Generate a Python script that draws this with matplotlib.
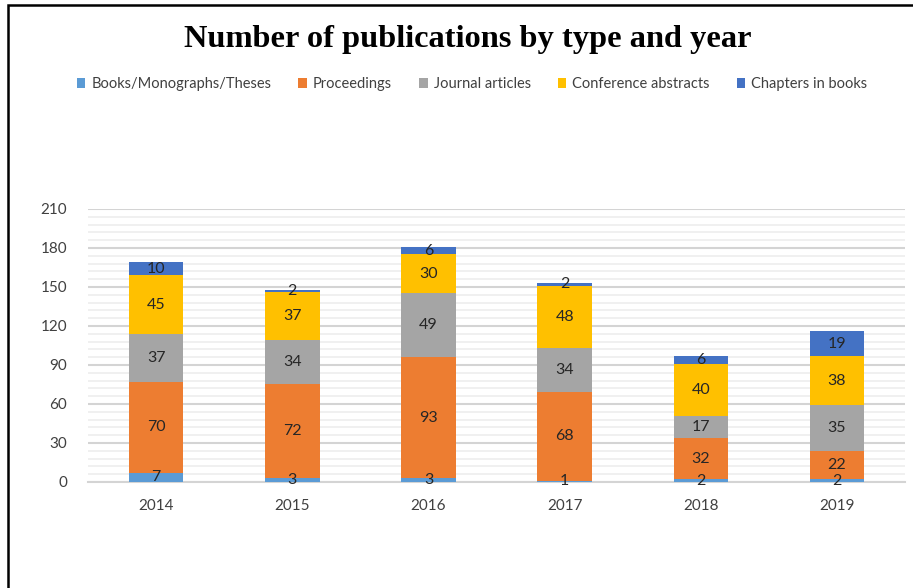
import matplotlib.pyplot as plt
import numpy as np
from matplotlib.patches import Rectangle

years = ['2014', '2015', '2016', '2017', '2018', '2019']
series_names = ['Books/Monographs/Theses', 'Proceedings', 'Journal articles',
                'Conference abstracts', 'Chapters in books']
books = [7, 3, 3, 1, 2, 2]
proceedings = [70, 72, 93, 68, 32, 22]
journal = [37, 34, 49, 34, 17, 35]
conference = [45, 37, 30, 48, 40, 38]
chapters = [10, 2, 6, 2, 6, 19]
colors = ['#5B9BD5', '#ED7D31', '#A5A5A5', '#FFC000', '#4472C4']

fig = plt.figure(figsize=(9.13, 5.88), dpi=100)
ax = fig.add_axes([0.0964, 0.1803, 0.8949, 0.4643])

x = np.arange(len(years))
bottom = np.zeros(len(years))
for name, vals, c in zip(series_names, [books, proceedings, journal, conference, chapters], colors):
  vals = np.array(vals, float)
  ax.bar(x, vals, 0.4, bottom=bottom, color=c, label=name, zorder=3)
  for xi, b, v in zip(x, bottom, vals):
    ax.text(xi, b + v / 2, f'{int(v)}', ha='center', va='center', fontsize=11.5,
            color='#262626', family='Lato', zorder=4)
  bottom += vals

ax.set_xlim(-0.5, 5.5)
ax.set_ylim(0, 210)
ax.set_yticks(range(0, 211, 30))
ax.set_yticks(range(0, 211, 6), minor=True)
ax.set_xticks(x)
ax.set_xticklabels(years)
ax.tick_params(axis='both', which='both', length=0, labelsize=11, labelcolor='#404040')
ax.tick_params(axis='x', pad=12)
ax.tick_params(axis='y', pad=15)
for lbl in ax.get_xticklabels() + ax.get_yticklabels():
  lbl.set_family('Lato')
ax.grid(axis='y', which='major', color='#D4D4D4', linewidth=1.5, zorder=0)
ax.grid(axis='y', which='minor', color='#EDEDED', linewidth=1.2, zorder=0)
for s in ['top', 'right', 'left']:
  ax.spines[s].set_visible(False)
ax.spines['bottom'].set_color('#D4D4D4')
ax.spines['bottom'].set_linewidth(1.5)

fig.text(0.512, 0.932, 'Number of publications by type and year', ha='center', va='center',
         fontsize=23.3, fontweight='bold', family='Liberation Serif')
fig.legend(loc='center', bbox_to_anchor=(0.517, 0.857), ncol=5, frameon=False,
           handlelength=0.6, handleheight=0.6, handletextpad=0.4, columnspacing=1.85,
           prop={'family': 'Lato', 'size': 10.5}, labelcolor='#404040')

# outer frame (left and top edges visible)
fig.add_artist(Rectangle((8 / 913, -0.1), 1.2, 1.1 - 5 / 588, transform=fig.transFigure,
                         fill=False, edgecolor='black', linewidth=1.8))

fig.savefig('out.png', dpi=100)
